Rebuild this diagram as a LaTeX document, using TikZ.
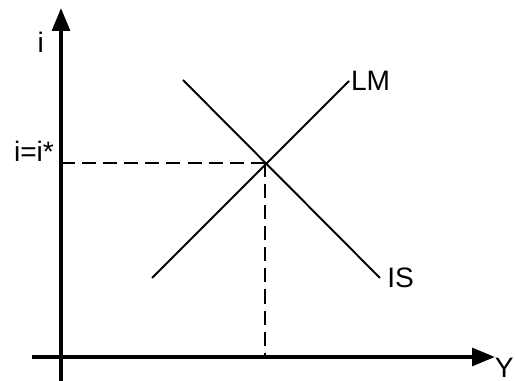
\documentclass[tikz,border=0pt]{standalone}
\usepackage{fontspec}
\setmainfont{Liberation Sans}
\usepackage{tikz}
\usetikzlibrary{arrows.meta,positioning,calc}

\begin{document}
\begin{tikzpicture}[
  x=0.02cm, y=-0.02cm,
  axis/.style={-{Triangle[length=13pt,width=10pt]}, line width=2.2pt, black},
  curve/.style={line width=1.1pt, black},
  guide/.style={line width=1.1pt, black, dash pattern=on 8pt off 4pt},
  lbl/.style={font=\fontsize{16}{18}\selectfont, inner sep=1pt}
]
  \useasboundingbox (0,0) rectangle (515,381);
  % axes
  \coordinate (yfoot) at (61,383);
  \coordinate (ytop) at (61,8);
  \coordinate (xfoot) at (32,357);
  \coordinate (xend) at (495,357);
  \draw[axis] (yfoot) -- (ytop);
  \draw[axis] (xfoot) -- (xend);
  \node[lbl, anchor=east] (ilab) at (46,42) {i};
  \node[lbl, anchor=east, inner sep=0pt] (ylab) at (514,368) {Y};
  % curves
  \coordinate (lmlow) at (152,278);
  \coordinate (lmhigh) at (349,81);
  \coordinate (ishigh) at (183,80);
  \coordinate (islow) at (380,278);
  \draw[curve] (lmlow) -- (lmhigh);
  \draw[curve] (ishigh) -- (islow);
  \node[lbl, anchor=west] (lm) at (lmhigh) {LM};
  \node[lbl, anchor=west] (is) at ([xshift=3]islow) {IS};
  % equilibrium
  \coordinate (eq) at (265,163);
  \draw[guide] (61,163) -- (eq);
  \draw[guide] (eq) -- (265,357);
  \node[lbl, anchor=south east] (istar) at (56,164) {i=i*};
\end{tikzpicture}
\end{document}
